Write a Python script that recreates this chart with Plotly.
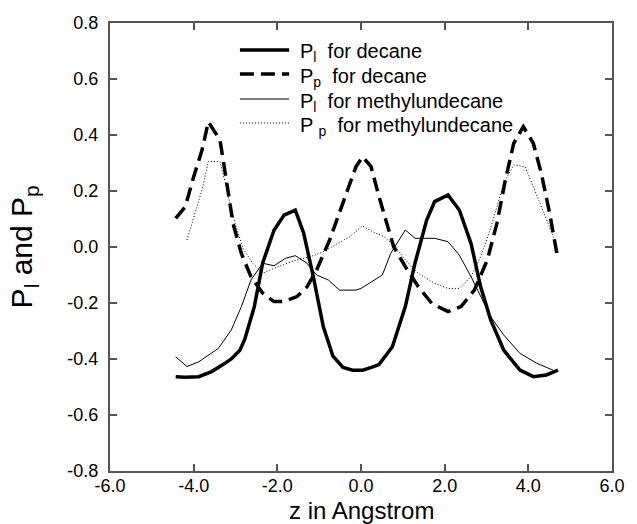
import plotly.graph_objects as go

# ---- data ----
x_pl_dec = [-4.43, -4.2, -3.88, -3.57, -3.3, -3.1, -2.9, -2.78, -2.55, -2.35, -2.08, -1.84, -1.57, -1.37, -1.14,
            -0.9, -0.67, -0.43, -0.2, 0.04, 0.25, 0.43, 0.75, 1.06, 1.29, 1.57, 1.76, 2.08, 2.35, 2.63, 2.86,
            3.1, 3.41, 3.8, 4.12, 4.43, 4.71]
y_pl_dec = [-0.463, -0.465, -0.463, -0.445, -0.42, -0.40, -0.37, -0.33, -0.213, -0.057, 0.06, 0.114, 0.132, 0.049,
            -0.106, -0.285, -0.39, -0.43, -0.44, -0.44, -0.43, -0.42, -0.356, -0.213, -0.058, 0.096, 0.162, 0.186,
            0.132, 0.013, -0.142, -0.26, -0.368, -0.44, -0.463, -0.457, -0.44]

x_pp_dec = [-4.43, -4.2, -4.0, -3.8, -3.65, -3.45, -3.37, -3.22, -3.06, -2.86, -2.63, -2.35, -2.08, -1.84, -1.53,
            -1.29, -1.06, -0.75, -0.43, -0.12, 0.04, 0.24, 0.43, 0.59, 0.78, 1.06, 1.37, 1.69, 2.08, 2.39, 2.71,
            3.02, 3.25, 3.45, 3.65, 3.88, 4.12, 4.31, 4.51, 4.71]
y_pp_dec = [0.102, 0.144, 0.251, 0.346, 0.447, 0.40, 0.382, 0.239, 0.085, -0.023, -0.106, -0.165, -0.195, -0.195,
            -0.177, -0.142, -0.082, 0.025, 0.156, 0.287, 0.322, 0.287, 0.18, 0.096, 0.001, -0.07, -0.142, -0.201,
            -0.231, -0.213, -0.154, -0.046, 0.085, 0.239, 0.37, 0.43, 0.37, 0.263, 0.12, -0.046]

x_pl_mu = [-4.43, -4.16, -3.88, -3.41, -3.1, -2.86, -2.63, -2.35, -2.08, -1.8, -1.57, -1.29, -1.06, -0.78, -0.51,
           -0.12, 0.0, 0.27, 0.51, 0.71, 0.9, 1.06, 1.29, 1.76, 2.08, 2.35, 2.63, 2.86, 3.1, 3.41, 3.8, 4.2, 4.59]
y_pl_mu = [-0.392, -0.427, -0.41, -0.362, -0.296, -0.213, -0.118, -0.058, -0.067, -0.04, -0.031, -0.058, -0.1,
           -0.118, -0.154, -0.154, -0.148, -0.124, -0.1, -0.023, 0.025, 0.061, 0.031, 0.031, 0.019, -0.029, -0.106,
           -0.177, -0.249, -0.314, -0.38, -0.415, -0.44]

x_pp_mu = [-4.16, -4.04, -3.8, -3.65, -3.37, -3.22, -3.06, -2.82, -2.59, -2.35, -2.08, -1.76, -1.53, -1.22, -0.9,
           -0.59, -0.27, 0.04, 0.27, 0.55, 0.82, 1.06, 1.37, 1.76, 2.08, 2.35, 2.63, 2.86, 3.06, 3.25, 3.41, 3.65,
           3.92, 4.12, 4.35, 4.63]
y_pp_mu = [0.025, 0.085, 0.204, 0.305, 0.305, 0.215, 0.108, -0.005, -0.058, -0.094, -0.076, -0.058, -0.046, -0.035,
           -0.017, 0.01, 0.037, 0.075, 0.055, 0.037, 0.001, -0.046, -0.094, -0.13, -0.148, -0.148, -0.106, -0.035,
           0.049, 0.144, 0.227, 0.293, 0.287, 0.215, 0.132, 0.025]

series_names = ["P<sub>l</sub>  for decane", "P<sub>p</sub>  for decane",
                "P<sub>l</sub>  for methylundecane", "P <sub>p</sub>  for methylundecane"]

x_tickvals = [-6, -4, -2, 0, 2, 4, 6]
x_ticktext = ["-6.0", "-4.0", "-2.0", "0.0", "2.0", "4.0", "6.0"]
y_tickvals = [-0.8, -0.6, -0.4, -0.2, 0.0, 0.2, 0.4, 0.6, 0.8]
y_ticktext = ["-0.8", "-0.6", "-0.4", "-0.2", "0.0", "0.2", "0.4", "0.6", "0.8"]

FONT = "Liberation Sans, Arial, sans-serif"

line_styles = [dict(color="black", width=3.5),
               dict(color="black", width=3.5, dash="14px,7px"),
               dict(color="black", width=1),
               dict(color="black", width=1, dash="1px,2px")]

fig = go.Figure()
for xs, ys, nm, ls in zip([x_pl_dec, x_pp_dec, x_pl_mu, x_pp_mu],
                          [y_pl_dec, y_pp_dec, y_pl_mu, y_pp_mu],
                          series_names, line_styles):
    fig.add_trace(go.Scatter(x=xs, y=ys, mode="lines", name=nm, line=ls, showlegend=False))

axis_common = dict(showline=True, linecolor="#555", linewidth=2, mirror="ticks", ticks="inside",
                   ticklen=7, tickwidth=1.5, tickcolor="#555", showgrid=False, zeroline=False,
                   tickfont=dict(family=FONT, size=18, color="black"))

fig.update_xaxes(range=[-6, 6], tickvals=x_tickvals, ticktext=x_ticktext, ticklabelstandoff=-3, **axis_common)
fig.update_yaxes(range=[-0.8, 0.8], tickvals=y_tickvals, ticktext=y_ticktext, ticklabelstandoff=6, **axis_common)

# manual legend (key lines + labels) in paper coordinates
PLOT_L, PLOT_W, PLOT_B, PLOT_H = 110, 510, 471, 448
def px_to_paper_x(px):
    return (px - PLOT_L) / PLOT_W
def py_to_paper_y(py):
    return (PLOT_B - py) / PLOT_H

legend_rows_px = [50, 74, 99, 123]
shapes = []
annotations = []
for nm, ls, ry in zip(series_names, line_styles, legend_rows_px):
    yy = py_to_paper_y(ry)
    shapes.append(dict(type="line", xref="paper", yref="paper",
                       x0=px_to_paper_x(242), x1=px_to_paper_x(292), y0=yy, y1=yy,
                       line=ls))
    annotations.append(dict(text=nm, x=px_to_paper_x(301), y=py_to_paper_y(ry + 3), xref="paper", yref="paper",
                            xanchor="left", yanchor="middle", showarrow=False,
                            font=dict(family=FONT, size=20, color="black")))

annotations += [
    dict(text="z in Angstrom", x=0.5, y=py_to_paper_y(510), xref="paper", yref="paper",
         xanchor="center", yanchor="middle", showarrow=False,
         font=dict(family=FONT, size=24, color="black")),
    dict(text="P<sub>l</sub> and P<sub>p</sub>", x=px_to_paper_x(22), y=0.5, xref="paper", yref="paper",
         xanchor="center", yanchor="middle", textangle=-90, showarrow=False,
         font=dict(family=FONT, size=30, color="black")),
]

fig.update_layout(
    width=637, height=524,
    margin=dict(l=110, r=17, t=23, b=53),
    paper_bgcolor="white", plot_bgcolor="white",
    font=dict(family=FONT, color="black"),
    showlegend=False,
    shapes=shapes,
    annotations=annotations,
)

fig.write_html("out.html")
